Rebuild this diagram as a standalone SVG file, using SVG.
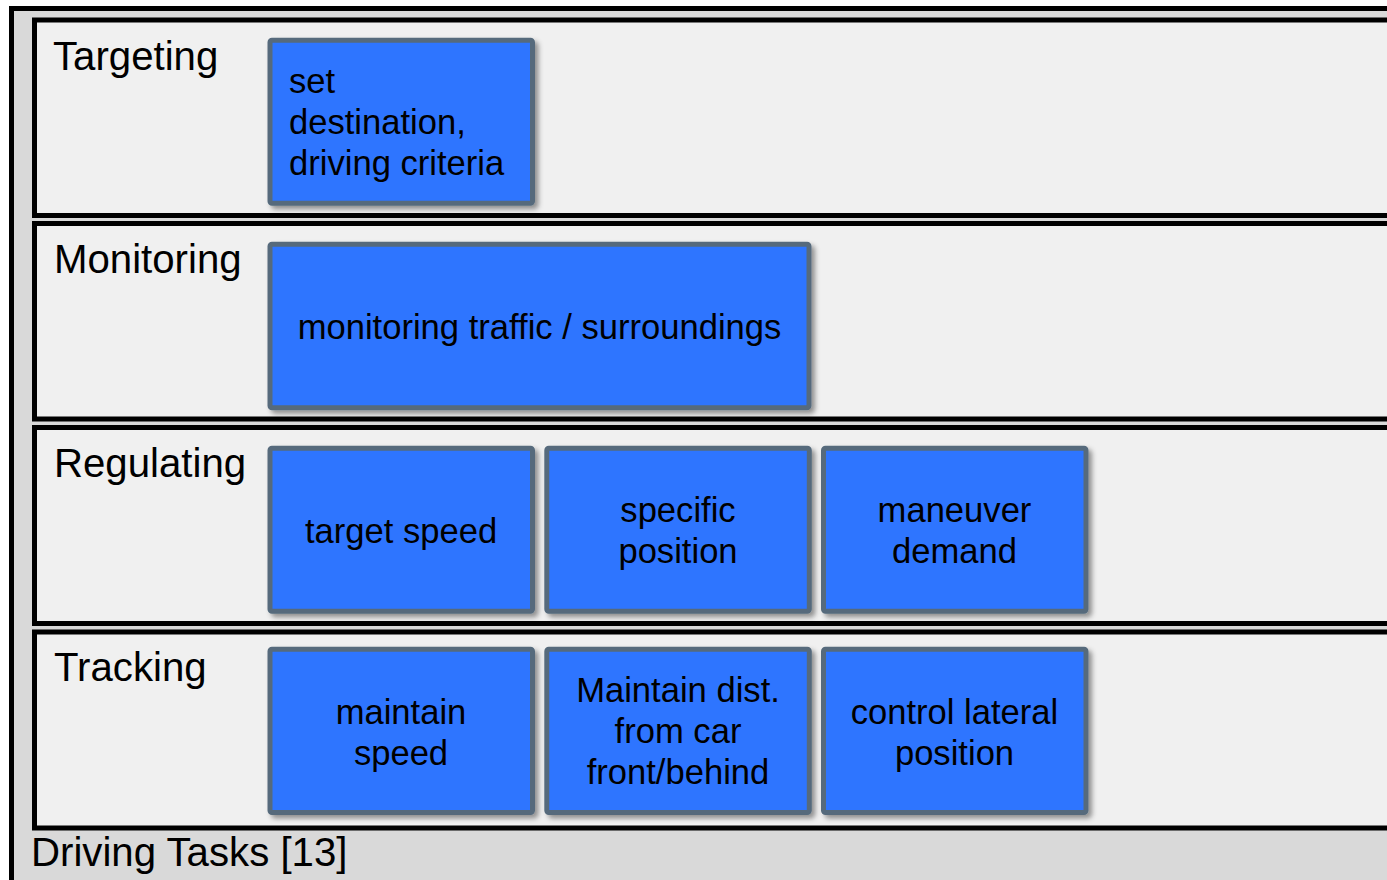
<svg xmlns="http://www.w3.org/2000/svg" width="1387" height="880" viewBox="0 0 1387 880">
  <defs>
    <filter id="shadow" x="-10%" y="-10%" width="125%" height="125%">
      <feDropShadow dx="3.5" dy="3.5" stdDeviation="2.5" flood-color="#000" flood-opacity="0.4"/>
    </filter>
    <style>
      .frame { fill: #d9d9d9; stroke: #000; stroke-width: 5; }
      .lane { fill: #f0f0f0; stroke: #000; stroke-width: 5; }
      .lane-label { font-family: "Liberation Sans", Arial, sans-serif; font-size: 40.2px; fill: #000; }
      .task { fill: #2f75ff; stroke: #566b7c; stroke-width: 5; filter: url(#shadow); }
      .task-text { font-family: "Liberation Sans", Arial, sans-serif; font-size: 34.6px; fill: #000; text-anchor: middle; }
      .task-text.left { text-anchor: start; }
    </style>
  </defs>

  <rect x="0" y="0" width="1387" height="880" fill="#ffffff"/>

  <!-- outer container -->
  <g id="driving-tasks">
    <rect class="frame" x="11.5" y="8.5" width="1400" height="900"/>
    <text class="lane-label" x="31" y="866">Driving Tasks [13]</text>
  </g>

  <!-- swim lanes -->
  <g id="lane-targeting">
    <rect class="lane" x="34.5" y="20" width="1380" height="195.5"/>
    <text class="lane-label" x="53" y="70">Targeting</text>
  </g>
  <g id="lane-monitoring">
    <rect class="lane" x="34.5" y="223.5" width="1380" height="195.5"/>
    <text class="lane-label" x="54" y="273">Monitoring</text>
  </g>
  <g id="lane-regulating">
    <rect class="lane" x="34.5" y="427.5" width="1380" height="196"/>
    <text class="lane-label" x="54" y="477">Regulating</text>
  </g>
  <g id="lane-tracking">
    <rect class="lane" x="34.5" y="632" width="1380" height="196"/>
    <text class="lane-label" x="54" y="681">Tracking</text>
  </g>

  <!-- task boxes -->
  <g id="task-set-destination">
    <rect class="task" x="270" y="40.2" width="262.5" height="163" rx="2"/>
    <text class="task-text left" x="289" y="92.5">set</text>
    <text class="task-text left" x="289" y="134">destination,</text>
    <text class="task-text left" x="289" y="175">driving criteria</text>
  </g>

  <g id="task-monitoring-traffic">
    <rect class="task" x="270" y="244.2" width="539" height="163.5" rx="2"/>
    <text class="task-text" x="539.5" y="339">monitoring traffic / surroundings</text>
  </g>

  <g id="task-target-speed">
    <rect class="task" x="270" y="448.2" width="262.5" height="163" rx="2"/>
    <text class="task-text" x="401" y="542.5">target speed</text>
  </g>
  <g id="task-specific-position">
    <rect class="task" x="546.8" y="448.2" width="262.5" height="163" rx="2"/>
    <text class="task-text" x="678" y="522">specific</text>
    <text class="task-text" x="678" y="563">position</text>
  </g>
  <g id="task-maneuver-demand">
    <rect class="task" x="823.5" y="448.2" width="262.5" height="163" rx="2"/>
    <text class="task-text" x="954.5" y="522">maneuver</text>
    <text class="task-text" x="954.5" y="563">demand</text>
  </g>

  <g id="task-maintain-speed">
    <rect class="task" x="270" y="649.2" width="262.5" height="163.3" rx="2"/>
    <text class="task-text" x="401" y="724">maintain</text>
    <text class="task-text" x="401" y="765">speed</text>
  </g>
  <g id="task-maintain-distance">
    <rect class="task" x="546.8" y="649.2" width="262.5" height="163.3" rx="2"/>
    <text class="task-text" x="678" y="702">Maintain dist.</text>
    <text class="task-text" x="678" y="743">from car</text>
    <text class="task-text" x="678" y="784">front/behind</text>
  </g>
  <g id="task-lateral-position">
    <rect class="task" x="823.5" y="649.2" width="262.5" height="163.3" rx="2"/>
    <text class="task-text" x="954.5" y="724">control lateral</text>
    <text class="task-text" x="954.5" y="765">position</text>
  </g>

  <!-- no connectors in this chart -->
  <g id="connectors"/>
</svg>
